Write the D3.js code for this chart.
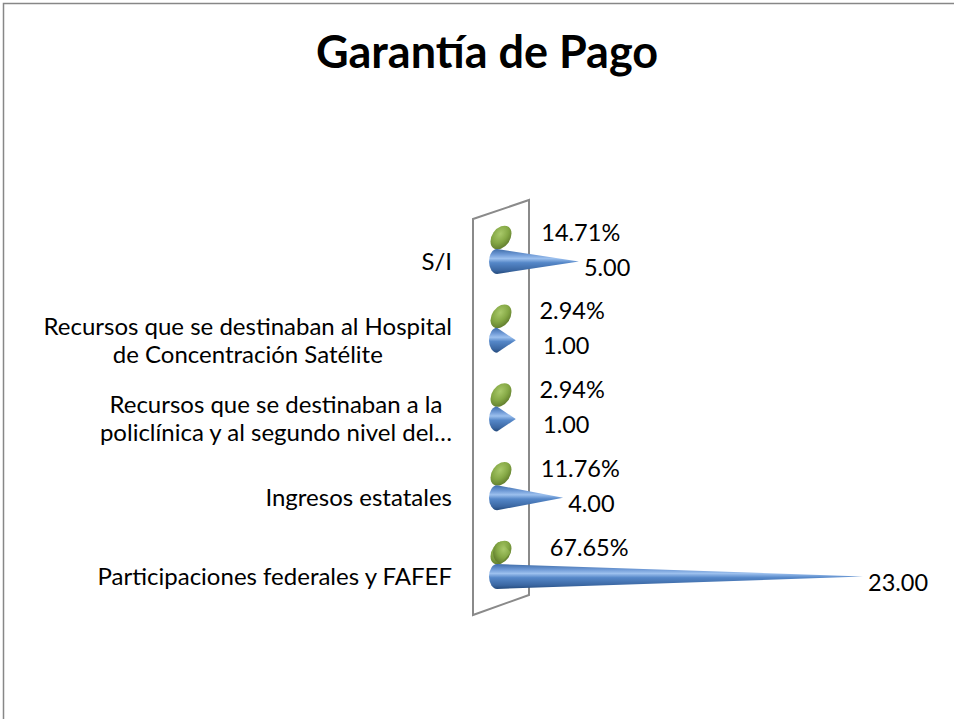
<!DOCTYPE html>
<html>
<head>
<meta charset="utf-8">
<script src="https://cdn.jsdelivr.net/npm/d3@7"></script>
<style>
    html, body { margin: 0; padding: 0; background: #fff; }
    svg { display: block; font-family: Lato, 'Open Sans', sans-serif; }
</style>
</head>
<body>
<svg id="chart" width="954" height="719"></svg>
<script>
'use strict';

// Chart data
const categories = [
    'S/I',
    'Recursos que se destinaban al Hospital de Concentración Satélite',
    'Recursos que se destinaban a la policlínica y al segundo nivel del Hospital',
    'Ingresos estatales',
    'Participaciones federales y FAFEF'
];
const labelLines = [
    ['S/I'],
    ['Recursos que se destinaban al Hospital', 'de Concentración Satélite'],
    ['Recursos que se destinaban a la', 'policlínica y al segundo nivel del…'],
    ['Ingresos estatales'],
    ['Participaciones federales y FAFEF']
];
const counts = [5, 1, 1, 4, 23];
const shares = [0.1471, 0.0294, 0.0294, 0.1176, 0.6765];

(function () {

    const svg = d3.select('#chart');

    // Outer border (only left and top visible)
    svg.append('rect')
        .attr('x', 3.5).attr('y', 3.5)
        .attr('width', 1200).attr('height', 1200)
        .style('fill', 'none')
        .style('stroke', '#878787')
        .style('stroke-width', 1.5);

    // Title
    svg.append('text')
        .attr('x', 487)
        .attr('y', 68)
        .attr('text-anchor', 'middle')
        .style('font-weight', 'bold')
        .style('font-size', '45px')
        .style('fill', '#000')
        .text('Garantía de Pago');

    // Scales
    const scX = d3.scaleLinear().domain([0, 23]).range([500, 863]);
    const scY = d3.scalePoint().domain(categories).range([249.5, 564.5]);

    // Gradients
    const defs = svg.append('defs');
    const blueGrad = defs.append('linearGradient')
        .attr('id', 'blueGrad')
        .attr('x1', 0).attr('y1', 0).attr('x2', 0).attr('y2', 1);
    [['0%', '#3f6ca8'], ['22%', '#6f9ad6'], ['38%', '#9cc0ee'], ['55%', '#5587c8'], ['85%', '#3b67a2'], ['100%', '#244a7c']]
        .forEach((s) => blueGrad.append('stop').attr('offset', s[0]).attr('stop-color', s[1]));

    const greenGrad = defs.append('radialGradient')
        .attr('id', 'greenGrad')
        .attr('cx', '60%').attr('cy', '35%').attr('r', '70%');
    [['0%', '#a9c96a'], ['55%', '#85a845'], ['100%', '#5f7a2c']]
        .forEach((s) => greenGrad.append('stop').attr('offset', s[0]).attr('stop-color', s[1]));

    // Wall
    const wall = [[473, 219], [529, 200], [529, 595], [473, 615]];
    svg.append('path')
        .attr('d', d3.line()(wall) + 'Z')
        .style('fill', 'none')
        .style('stroke', '#8a8a8a')
        .style('stroke-width', 2);

    // Cone body path
    function conePath(x0, tip, cy, rx, ry) {
        return `M${x0},${cy - ry} A${rx},${ry} 0 0 0 ${x0},${cy + ry} L${tip},${cy} Z`;
    }

    const rows = svg.append('g').attr('class', 'rows');

    categories.forEach((c, i) => {
        const cy = scY(c);
        const gy = cy - 12;
        const by = cy + 12;

        // Green cone (share)
        const gx = scX(0) + 1;
        rows.append('ellipse')
            .attr('cx', 0).attr('cy', 0)
            .attr('rx', 13).attr('ry', 9)
            .attr('transform', `translate(${gx},${gy}) rotate(-55)`)
            .style('fill', 'url(#greenGrad)');
        const gTip = scX(shares[i]);
        if (gTip > gx + 8) {
            rows.append('path')
                .attr('d', conePath(gx, gTip, gy, 8, 11))
                .style('fill', 'url(#greenGrad)');
        }

        // Blue cone (count)
        rows.append('path')
            .attr('d', conePath(scX(0) - 3, scX(counts[i]), by, 8, 12.5))
            .style('fill', 'url(#blueGrad)');
    });

    // Category labels
    const catG = svg.append('g').attr('class', 'cat-labels')
        .style('font-size', '24px').style('fill', '#000');
    const rightEdge = 452;
    labelLines.forEach((lines, i) => {
        const cy = scY(categories[i]) + 12;
        const texts = lines.map((t, j) => catG.append('text')
            .attr('y', cy + (j - (lines.length - 1) / 2) * 28)
            .attr('dy', '0.35em')
            .attr('text-anchor', 'middle')
            .text(t));
        const w = d3.max(texts, (t) => t.node().getComputedTextLength());
        texts.forEach((t) => t.attr('x', rightEdge - w / 2));
    });

    // Data labels
    const valG = svg.append('g').attr('class', 'val-labels')
        .style('font-size', '23.5px').style('fill', '#000');
    categories.forEach((c, i) => {
        const cy = scY(c);
        valG.append('text')
            .attr('x', scX(shares[i]) + 39)
            .attr('y', cy - 17)
            .attr('dy', '0.35em')
            .text((shares[i] * 100).toFixed(2) + '%');
        valG.append('text')
            .attr('x', Math.max(scX(counts[i]) + 5, 543))
            .attr('y', cy + 18)
            .attr('dy', '0.35em')
            .text(counts[i].toFixed(2));
    });

})();
</script>
</body>
</html>
